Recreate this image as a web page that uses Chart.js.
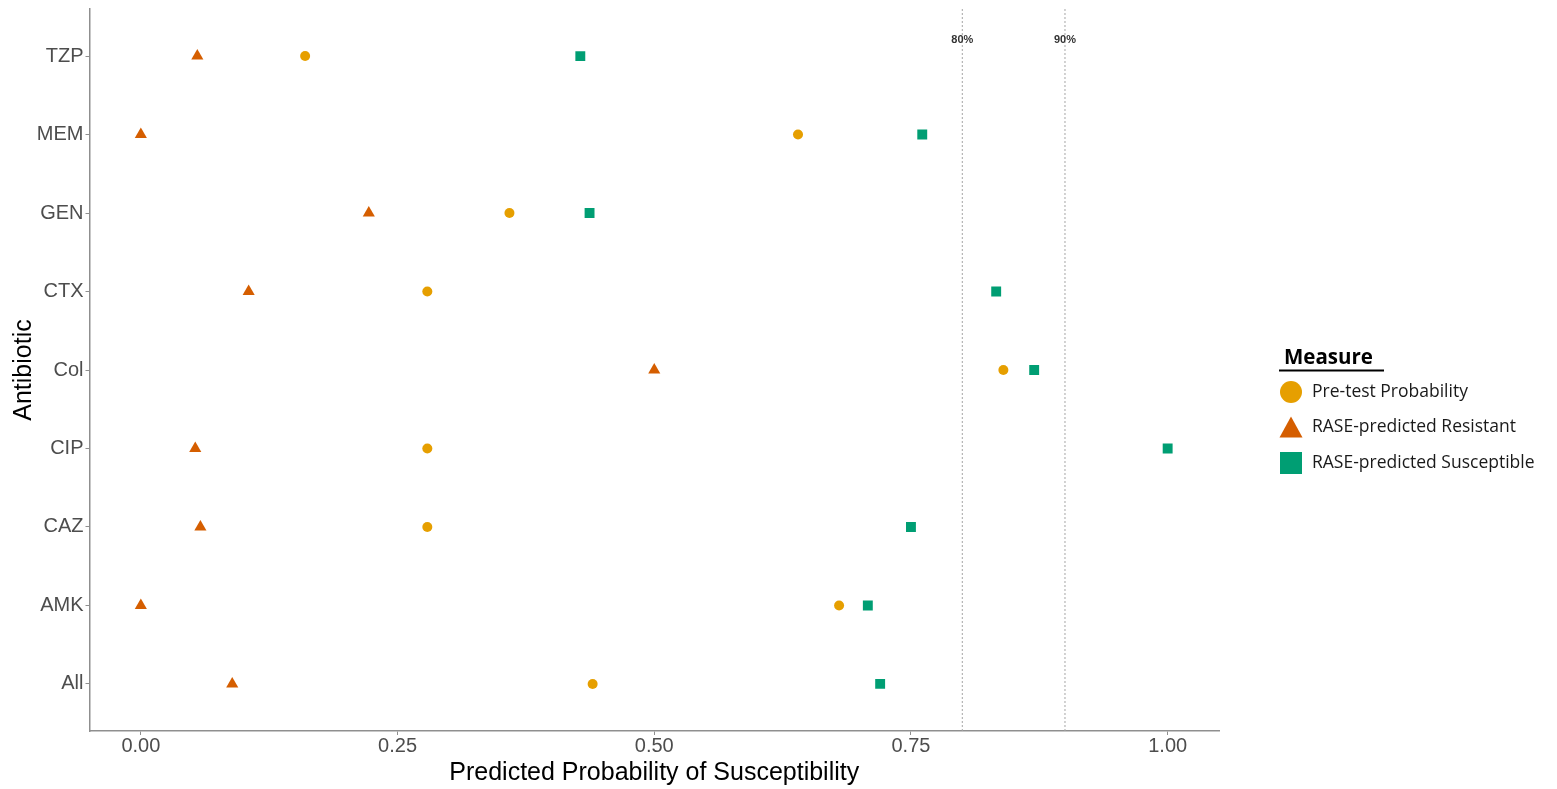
<!DOCTYPE html>
<html>
<head>
<meta charset="utf-8">
<script src="https://cdn.jsdelivr.net/npm/chart.js@4/dist/chart.umd.min.js"></script>
<style>
  html, body { margin: 0; padding: 0; background: #fff; overflow: hidden; }
  #wrap { width: 1557px; height: 789px; position: relative; }
</style>
</head>
<body>
<div id="wrap"><canvas id="c"></canvas></div>
<script>
// Antibiotics listed top to bottom
const antibiotics = ['TZP', 'MEM', 'GEN', 'CTX', 'Col', 'CIP', 'CAZ', 'AMK', 'All'];

// Predicted probability of susceptibility per antibiotic
const pretestProbability   = [0.160, 0.640, 0.359, 0.279, 0.840, 0.279, 0.279, 0.680, 0.440];
const rasePredResistant    = [0.055, 0.000, 0.222, 0.105, 0.500, 0.053, 0.058, 0.000, 0.089];
const rasePredSusceptible  = [0.428, 0.761, 0.437, 0.833, 0.870, 1.000, 0.750, 0.708, 0.720];

// Reference thresholds
const thresholds = [0.80, 0.90];
const thresholdLabels = ['80%', '90%'];

// x-axis ticks
const xTickValues = [0, 0.25, 0.50, 0.75, 1.00];
const xTickLabels = ['0.00', '0.25', '0.50', '0.75', '1.00'];

const seriesNames = ['Pre-test Probability', 'RASE-predicted Resistant', 'RASE-predicted Susceptible'];
const seriesColors = ['#E69F00', '#D55E00', '#009E73'];
const seriesShapes = ['circle', 'triangle', 'rect'];
const seriesValues = [pretestProbability, rasePredResistant, rasePredSusceptible];

const Y_MIN = -0.6, Y_MAX = antibiotics.length - 1 + 0.6;
const LABEL_Y = -0.2;

const pointDatasets = seriesNames.map((name, s) => ({
  type: 'scatter',
  label: name,
  data: seriesValues[s].map((v, i) => ({ x: v, y: i })),
  pointStyle: seriesShapes[s],
  backgroundColor: seriesColors[s],
  borderColor: seriesColors[s],
  borderWidth: 0,
  pointRadius: s === 0 ? 5 : 7,
  order: 1
}));

const thresholdDatasets = thresholds.map(t => ({
  type: 'line',
  label: 'threshold',
  data: [{ x: t, y: Y_MIN }, { x: t, y: Y_MAX }],
  borderColor: '#a6a6a6',
  borderWidth: 1,
  borderDash: [2, 2],
  pointRadius: 0,
  fill: false,
  order: 5
}));

// Threshold text labels above the top row
const thresholdLabelPlugin = {
  id: 'thresholdLabels',
  afterDatasetsDraw(chart) {
    const { ctx, scales: { x, y } } = chart;
    ctx.save();
    ctx.font = 'bold 11px "Liberation Sans", Arial, sans-serif';
    ctx.fillStyle = '#333';
    ctx.textAlign = 'center';
    ctx.textBaseline = 'middle';
    thresholds.forEach((t, i) => {
      ctx.fillText(thresholdLabels[i], x.getPixelForValue(t), y.getPixelForValue(LABEL_Y));
    });
    ctx.restore();
  }
};

// Legend drawn to the right of the plot panel
const measureLegendPlugin = {
  id: 'measureLegend',
  afterDraw(chart) {
    const { ctx, chartArea } = chart;
    const left = chartArea.right + 60;
    const midY = (chartArea.top + chartArea.bottom) / 2;
    ctx.save();
    // title
    ctx.font = 'bold 20.5px "Open Sans", Lato, sans-serif';
    ctx.fillStyle = '#000';
    ctx.textAlign = 'left';
    ctx.textBaseline = 'middle';
    const titleY = midY - 11.5;
    ctx.fillText('Measure', left + 5, titleY);
    ctx.fillRect(left, titleY + 11, 105, 2);
    // items
    const rowGap = 35.5;
    const firstY = titleY + 33.5;
    ctx.font = '17.5px "Open Sans", Lato, sans-serif';
    seriesNames.forEach((name, s) => {
      const cy = firstY + s * rowGap;
      const cx = left + 12;
      ctx.fillStyle = seriesColors[s];
      ctx.beginPath();
      if (seriesShapes[s] === 'circle') {
        ctx.arc(cx, cy, 11, 0, Math.PI * 2);
      } else if (seriesShapes[s] === 'triangle') {
        ctx.moveTo(cx, cy - 11);
        ctx.lineTo(cx + 11.5, cy + 10);
        ctx.lineTo(cx - 11.5, cy + 10);
        ctx.closePath();
      } else {
        ctx.rect(cx - 11, cy - 11, 22, 22);
      }
      ctx.fill();
      ctx.fillStyle = '#1a1a1a';
      ctx.fillText(name, left + 33, cy);
    });
    ctx.restore();
  }
};

const axisGray = '#8f8f8f';
const tickFont = { family: '"Liberation Sans", Arial, sans-serif', size: 20 };
const titleFont = { family: '"Liberation Sans", Arial, sans-serif', size: 25 };

function noScalePadding(scale) {
  scale.paddingTop = 0;
  scale.paddingBottom = 0;
  scale.paddingLeft = 0;
  scale.paddingRight = 0;
}

new Chart(document.getElementById('c'), {
  data: { datasets: [...thresholdDatasets, ...pointDatasets] },
  plugins: [thresholdLabelPlugin, measureLegendPlugin],
  options: {
    responsive: true,
    maintainAspectRatio: false,
    animation: false,
    events: [],
    layout: { padding: { left: 0, right: 338, top: 9, bottom: 0 } },
    plugins: { legend: { display: false }, tooltip: { enabled: false } },
    scales: {
      x: {
        type: 'linear',
        min: -0.05,
        max: 1.05,
        afterBuildTicks(scale) { scale.ticks = xTickValues.map(v => ({ value: v })); },
        afterFit(scale) { scale.height = 58; noScalePadding(scale); },
        ticks: {
          callback(value) { const i = xTickValues.indexOf(value); return i >= 0 ? xTickLabels[i] : ''; },
          color: '#4d4d4d',
          font: tickFont,
          padding: -1,
          maxRotation: 0
        },
        grid: { drawOnChartArea: false, drawTicks: true, tickLength: 4, color: axisGray, lineWidth: 1 },
        border: { display: true, color: axisGray, width: 1.5 },
        title: {
          display: true,
          text: 'Predicted Probability of Susceptibility',
          color: '#000',
          font: titleFont,
          padding: { top: 0, bottom: 1 }
        }
      },
      y: {
        type: 'linear',
        reverse: true,
        min: Y_MIN,
        max: Y_MAX,
        afterBuildTicks(scale) { scale.ticks = antibiotics.map((_, i) => ({ value: i })); },
        afterFit(scale) { scale.width = 89.5; noScalePadding(scale); },
        ticks: {
          callback(value) { return antibiotics[value] ?? ''; },
          color: '#4d4d4d',
          font: tickFont,
          padding: 2
        },
        grid: { drawOnChartArea: false, drawTicks: true, tickLength: 4, color: axisGray, lineWidth: 1 },
        border: { display: true, color: axisGray, width: 1.5 },
        title: {
          display: true,
          text: 'Antibiotic',
          color: '#000',
          font: titleFont,
          padding: { top: 9, bottom: 0 }
        }
      }
    }
  }
});
</script>
</body>
</html>
